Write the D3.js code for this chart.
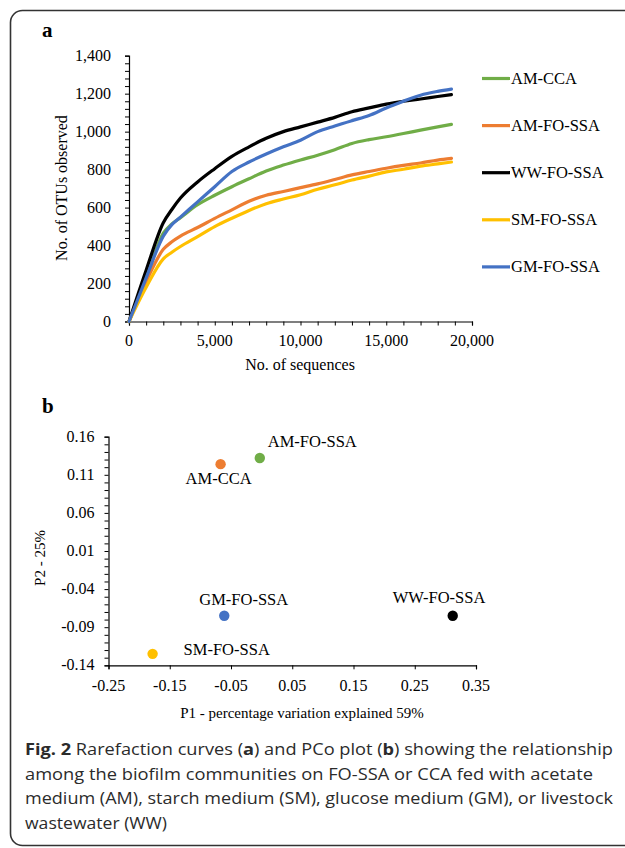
<!DOCTYPE html>
<html>
<head>
<meta charset="utf-8">
<script src="https://cdn.jsdelivr.net/npm/d3@7"></script>
<style>
body { margin: 0; background: #fff; }
svg text { font-family: "Liberation Serif", "Times New Roman", serif; fill: #000; }
</style>
</head>
<body>
<div id="fig"></div>
<script>
// rarefaction curves (panel a)
var seqs = [0, 1000, 2000, 2500, 3000, 4000, 5000, 6000, 7000, 8000, 9000, 10000, 11000, 12000, 13000, 14000, 15000, 16000, 17000, 18000, 18800];
var amCca = [0, 230, 465, 514, 547, 615, 665, 710, 752, 793, 824, 851, 876, 905, 938, 958, 973, 990, 1008, 1025, 1038];
var amFoSsa = [0, 210, 380, 420, 450, 495, 543, 588, 633, 665, 685, 705, 725, 748, 772, 790, 807, 822, 835, 850, 859];
var wwFoSsa = [0, 270, 520, 590, 650, 735, 805, 870, 920, 965, 1000, 1025, 1050, 1075, 1105, 1125, 1145, 1160, 1172, 1185, 1195];
var smFoSsa = [0, 180, 330, 365, 395, 447, 500, 544, 585, 620, 645, 668, 697, 720, 745, 766, 788, 802, 818, 830, 840];
var gmFoSsa = [0, 230, 450, 510, 550, 630, 710, 790, 840, 882, 920, 955, 1000, 1030, 1058, 1085, 1125, 1160, 1192, 1212, 1224];
var seriesNames = ["AM-CCA", "AM-FO-SSA", "WW-FO-SSA", "SM-FO-SSA", "GM-FO-SSA"];
var seriesColors = ["#70AD47", "#ED7D31", "#000000", "#FFC000", "#4472C4"];
var yTicksA = [0, 200, 400, 600, 800, 1000, 1200, 1400];
var xTicksA = [0, 5000, 10000, 15000, 20000];

// PCo plot (panel b), one entry per coloured dot
var pcoColors = ["#70AD47", "#ED7D31", "#000000", "#FFC000", "#4472C4"];
// text printed beside each dot in the source (green/orange labels look swapped there)
var pcoLabels = ["AM-FO-SSA", "AM-CCA", "WW-FO-SSA", "SM-FO-SSA", "GM-FO-SSA"];
var pcoP1 = [-0.003, -0.067, 0.312, -0.178, -0.061];
var pcoP2 = [0.132, 0.124, -0.075, -0.125, -0.075];
var yTicksB = [-0.14, -0.09, -0.04, 0.01, 0.06, 0.11, 0.16];
var xTicksB = [-0.25, -0.15, -0.05, 0.05, 0.15, 0.25, 0.35];

var svg = d3.select("#fig").append("svg").attr("width", 625).attr("height", 848);

// frame
svg.append("rect").attr("x", 10.5).attr("y", 10.5).attr("width", 660).attr("height", 835)
	.attr("rx", 12).attr("fill", "none").attr("stroke", "#333").attr("stroke-width", 1.6);

function fmt2(d){ return d3.format(".2f")(d).replace("\u2212", "-"); }

// ---- panel a ----
svg.append("text").text("a").attr("x", 42).attr("y", 37).attr("font-size", "21px").attr("font-weight", "bold");

var xA = d3.scaleLinear().domain([0, 20000]).range([129, 472]);
var yA = d3.scaleLinear().domain([0, 1400]).range([321.5, 55.7]);

var gxA = svg.append("g").attr("transform", "translate(0," + yA(0) + ")");
gxA.call(d3.axisBottom(xA).tickValues(d3.range(0, 20001, 1000)).tickSize(4).tickFormat(""));
gxA.selectAll("text.lab").data(xTicksA).enter().append("text").attr("class", "lab")
	.attr("x", function(d){ return xA(d); }).attr("y", 24).attr("text-anchor", "middle")
	.attr("font-size", "16px").text(function(d){ return d3.format(",")(d); });

var gyA = svg.append("g").attr("transform", "translate(" + xA(0) + ",0)");
gyA.call(d3.axisLeft(yA).tickValues(d3.range(0, 1401, 40)).tickSize(4).tickFormat(""));
gyA.selectAll("text.lab").data(yTicksA).enter().append("text").attr("class", "lab")
	.attr("x", -18).attr("y", function(d){ return yA(d); }).attr("dy", "0.32em").attr("text-anchor", "end")
	.attr("font-size", "16px").text(function(d){ return d3.format(",")(d); });

[gxA, gyA].forEach(function(g){
	g.select(".domain").attr("stroke", "#000").attr("stroke-width", 1.2);
	g.selectAll(".tick line").attr("stroke", "#000").attr("stroke-width", 1);
});

svg.append("text").text("No. of sequences").attr("x", 300).attr("y", 370)
	.attr("text-anchor", "middle").attr("font-size", "16px");
svg.append("text").text("No. of OTUs observed").attr("transform", "translate(67,188) rotate(-90)")
	.attr("text-anchor", "middle").attr("font-size", "16px");

var seriesData = [amCca, amFoSsa, wwFoSsa, smFoSsa, gmFoSsa];
var line = d3.line().x(function(d, i){ return xA(seqs[i]); }).y(function(d){ return yA(d); })
	.curve(d3.curveMonotoneX);
svg.append("g").selectAll("path").data(seriesData).enter().append("path")
	.attr("d", line).attr("fill", "none").attr("stroke-width", 3.2)
	.attr("stroke-linejoin", "round").attr("stroke-linecap", "round")
	.attr("stroke", function(d, i){ return seriesColors[i]; });

// legend
var leg = svg.append("g").selectAll("g").data(seriesNames).enter().append("g")
	.attr("transform", function(d, i){ return "translate(482," + (78.5 + i * 47.1) + ")"; });
leg.append("line").attr("x1", 0).attr("x2", 28).attr("stroke-width", 3.2)
	.attr("stroke", function(d, i){ return seriesColors[i]; });
leg.append("text").attr("x", 29).attr("dy", "0.33em").attr("font-size", "16.5px").text(function(d){ return d; });

// ---- panel b ----
svg.append("text").text("b").attr("x", 42).attr("y", 413).attr("font-size", "21px").attr("font-weight", "bold");

var xB = d3.scaleLinear().domain([-0.25, 0.35]).range([108.5, 476]);
var yB = d3.scaleLinear().domain([-0.14, 0.16]).range([665.3, 436.7]);

var gxB = svg.append("g").attr("transform", "translate(0," + yB(-0.14) + ")");
gxB.call(d3.axisBottom(xB).tickValues(xTicksB).tickSize(4).tickFormat(""));
gxB.selectAll("text.lab").data(xTicksB).enter().append("text").attr("class", "lab")
	.attr("x", function(d){ return xB(d); }).attr("y", 26).attr("text-anchor", "middle")
	.attr("font-size", "16px").text(fmt2);

var gyB = svg.append("g").attr("transform", "translate(" + xB(-0.25) + ",0)");
gyB.call(d3.axisLeft(yB).tickValues(d3.range(0, 31).map(function(i){ return -0.14 + i * 0.01; })).tickSize(4).tickFormat(""));
gyB.selectAll("text.lab").data(yTicksB).enter().append("text").attr("class", "lab")
	.attr("x", -14).attr("y", function(d){ return yB(d); }).attr("dy", "0.32em").attr("text-anchor", "end")
	.attr("font-size", "16px").text(fmt2);

[gxB, gyB].forEach(function(g){
	g.select(".domain").attr("stroke", "#000").attr("stroke-width", 1.2);
	g.selectAll(".tick line").attr("stroke", "#000").attr("stroke-width", 1);
});

svg.append("text").text("P1 - percentage variation explained 59%").attr("x", 302).attr("y", 718)
	.attr("text-anchor", "middle").attr("font-size", "15px");
svg.append("text").text("P2 - 25%").attr("transform", "translate(45,558) rotate(-90)")
	.attr("text-anchor", "middle").attr("font-size", "15px");

// label offsets in px from each dot
var labelDx = [8, -35, -60, 31, -25];
var labelDy = [-11, 20, -13, 1, -11];
var pts = svg.append("g").selectAll("g").data(pcoP1).enter().append("g")
	.attr("transform", function(d, i){ return "translate(" + xB(d) + "," + yB(pcoP2[i]) + ")"; });
pts.append("circle").attr("r", 5.2).attr("fill", function(d, i){ return pcoColors[i]; });
pts.append("text").attr("x", function(d, i){ return labelDx[i]; }).attr("y", function(d, i){ return labelDy[i]; })
	.attr("font-size", "16.5px").text(function(d, i){ return pcoLabels[i]; });

// ---- caption ----
var cap = svg.append("g").attr("font-size", "15.5px");
var capLines = [
	[["Fig. 2", true], [" Rarefaction curves (", false], ["a", true], [") and PCo plot (", false], ["b", true], [") showing the relationship", false]],
	[["among the biofilm communities on FO-SSA or CCA fed with acetate", false]],
	[["medium (AM), starch medium (SM), glucose medium (GM), or livestock", false]],
	[["wastewater (WW)", false]]
];
var capEnds = [613, 593, 613, 167];
capLines.forEach(function(parts, li){
	var t = cap.append("text").attr("x", 25).attr("y", 755 + li * 24.5)
		.style("font-family", "'Open Sans', sans-serif").style("fill", "#2b2b2b")
		.attr("textLength", capEnds[li] - 25).attr("lengthAdjust", "spacingAndGlyphs");
	parts.forEach(function(p){
		t.append("tspan").text(p[0]).attr("font-weight", p[1] ? "bold" : "normal");
	});
});
</script>
</body>
</html>
